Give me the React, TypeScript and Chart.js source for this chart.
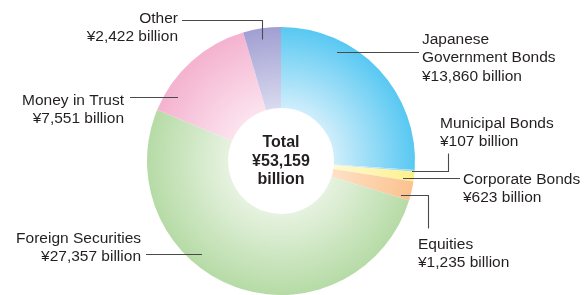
import React, { useEffect, useRef } from "react";
import { Chart, registerables } from "chart.js";

Chart.register(...registerables);

// ---- Data ----
const categories = [
  "Japanese Government Bonds",
  "Municipal Bonds",
  "Corporate Bonds",
  "Equities",
  "Foreign Securities",
  "Money in Trust",
  "Other",
];
const values = [13860, 107, 623, 1235, 27357, 7551, 2422];
const totalValue = 53159;
const unit = "billion";

// ---- Styles ----
const outerColors = ["#58c8f2", "#9fdbe8", "#fdf08e", "#fbc28e", "#b6dba6", "#f4b2cf", "#a09fd2"];
const innerColors = ["#e2f4fd", "#e3f5f8", "#fffbdc", "#fee6cf", "#eef6e9", "#fdebf3", "#e3e3f4"];

const fmt = (v: number) => "¥" + v.toLocaleString("en-US");

// label annotation layout: text position + where the leader line meets the slice
type Lbl = {
  lines: string[];
  x: number;
  y: number;
  align: CanvasTextAlign;
  t: number;
  rf: number;
  path: "h" | "hv" | "vh";
  ex: number;
  ey?: number;
};
const labelLayout: Lbl[] = [
  { lines: ["Japanese", "Government Bonds", fmt(values[0]) + " " + unit], x: 422, y: 38, align: "left", t: 0.29, rf: 0.86, path: "h", ex: 419 },
  { lines: [categories[1], fmt(values[1]) + " " + unit], x: 440, y: 122, align: "left", t: 0.5, rf: 0.97, path: "hv", ex: 448, ey: 153 },
  { lines: [categories[2], fmt(values[2]) + " " + unit], x: 463, y: 178, align: "left", t: 0.75, rf: 0.86, path: "h", ex: 460 },
  { lines: [categories[3], fmt(values[3]) + " " + unit], x: 418, y: 243, align: "left", t: 0.83, rf: 0.88, path: "hv", ex: 428, ey: 228 },
  { lines: [categories[4], fmt(values[4]) + " " + unit], x: 141, y: 237, align: "right", t: 0.61, rf: 0.85, path: "h", ex: 146 },
  { lines: [categories[5], fmt(values[5]) + " " + unit], x: 124, y: 99, align: "right", t: 0.18, rf: 0.84, path: "h", ex: 130 },
  { lines: [categories[6], fmt(values[6]) + " " + unit], x: 178, y: 17, align: "right", t: 0.46, rf: 0.87, path: "vh", ex: 182, ey: 20 },
];

const FONT = '"Liberation Sans", Arial, Helvetica, sans-serif';
const TEXT = "#231f20";
const CUTOUT = 0.395;

const labelsPlugin = {
  id: "labels",
  afterDraw(chart: any) {
    const ctx: CanvasRenderingContext2D = chart.ctx;
    const meta = chart.getDatasetMeta(0);
    const arcs = meta.data;
    if (!arcs.length) return;
    const a0 = arcs[0].getProps(["x", "y", "innerRadius", "outerRadius"], true);
    ctx.save();
    // center total
    ctx.fillStyle = TEXT;
    ctx.font = `bold 16px ${FONT}`;
    ctx.textAlign = "center";
    ctx.textBaseline = "alphabetic";
    const centerLines = ["Total", fmt(totalValue), unit];
    centerLines.forEach((s, i) => ctx.fillText(s, a0.x, a0.y - 10.5 + (i - 0.5) * 18.5 + 6));

    // leader lines
    ctx.strokeStyle = "#4a4a4a";
    ctx.lineWidth = 1.1;
    labelLayout.forEach((l, i) => {
      const p = arcs[i].getProps(["x", "y", "startAngle", "endAngle", "innerRadius", "outerRadius"], true);
      const ang = p.startAngle + l.t * (p.endAngle - p.startAngle);
      const r = p.innerRadius + l.rf * (p.outerRadius - p.innerRadius);
      const ax = Math.round(p.x + r * Math.cos(ang));
      const ay = Math.round(p.y + r * Math.sin(ang)) + 0.5;
      ctx.beginPath();
      ctx.moveTo(ax, ay);
      if (l.path === "h") {
        ctx.lineTo(l.ex, ay);
      } else if (l.path === "hv") {
        ctx.lineTo(l.ex + 0.5, ay);
        ctx.lineTo(l.ex + 0.5, l.ey! + 0.5);
      } else {
        ctx.moveTo(ax + 0.5, ay);
        ctx.lineTo(ax + 0.5, l.ey! + 0.5);
        ctx.lineTo(l.ex, l.ey! + 0.5);
      }
      ctx.stroke();
    });

    // label text
    ctx.font = `15.5px ${FONT}`;
    ctx.fillStyle = TEXT;
    labelLayout.forEach((l) => {
      ctx.textAlign = l.align;
      l.lines.forEach((s, j) => ctx.fillText(s, l.x, l.y + j * 18.5 + 5.8));
    });
    ctx.restore();
  },
};

export default function App() {
  const ref = useRef<HTMLCanvasElement | null>(null);
  useEffect(() => {
    document.body.style.margin = "0";
    const canvas = ref.current!;
    const chart = new Chart(canvas, {
      type: "doughnut",
      data: {
        labels: categories,
        datasets: [
          {
            data: values,
            borderWidth: 0,
            hoverOffset: 0,
            offset: 0,
            backgroundColor: (c: any) => {
              const ch = c.chart;
              const area = ch.chartArea;
              const i = c.dataIndex ?? 0;
              if (!area) return outerColors[i];
              const cx = (area.left + area.right) / 2;
              const cy = (area.top + area.bottom) / 2;
              const R = Math.min(area.right - area.left, area.bottom - area.top) / 2;
              const g = ch.ctx.createRadialGradient(cx, cy, R * CUTOUT * 0.75, cx, cy, R);
              g.addColorStop(0, innerColors[i]);
              g.addColorStop(1, outerColors[i]);
              return g;
            },
          },
        ],
      },
      options: {
        responsive: false,
        animation: false,
        cutout: CUTOUT * 100 + "%",
        layout: { padding: { left: 147, right: 171, top: 27, bottom: 0 } },
        plugins: { legend: { display: false }, tooltip: { enabled: false } },
      },
      plugins: [labelsPlugin],
    });
    return () => chart.destroy();
  }, []);
  return (
    <div style={{ width: 586, height: 295, background: "#fff" }}>
      <canvas ref={ref} width={586} height={295} style={{ display: "block" }} />
    </div>
  );
}
